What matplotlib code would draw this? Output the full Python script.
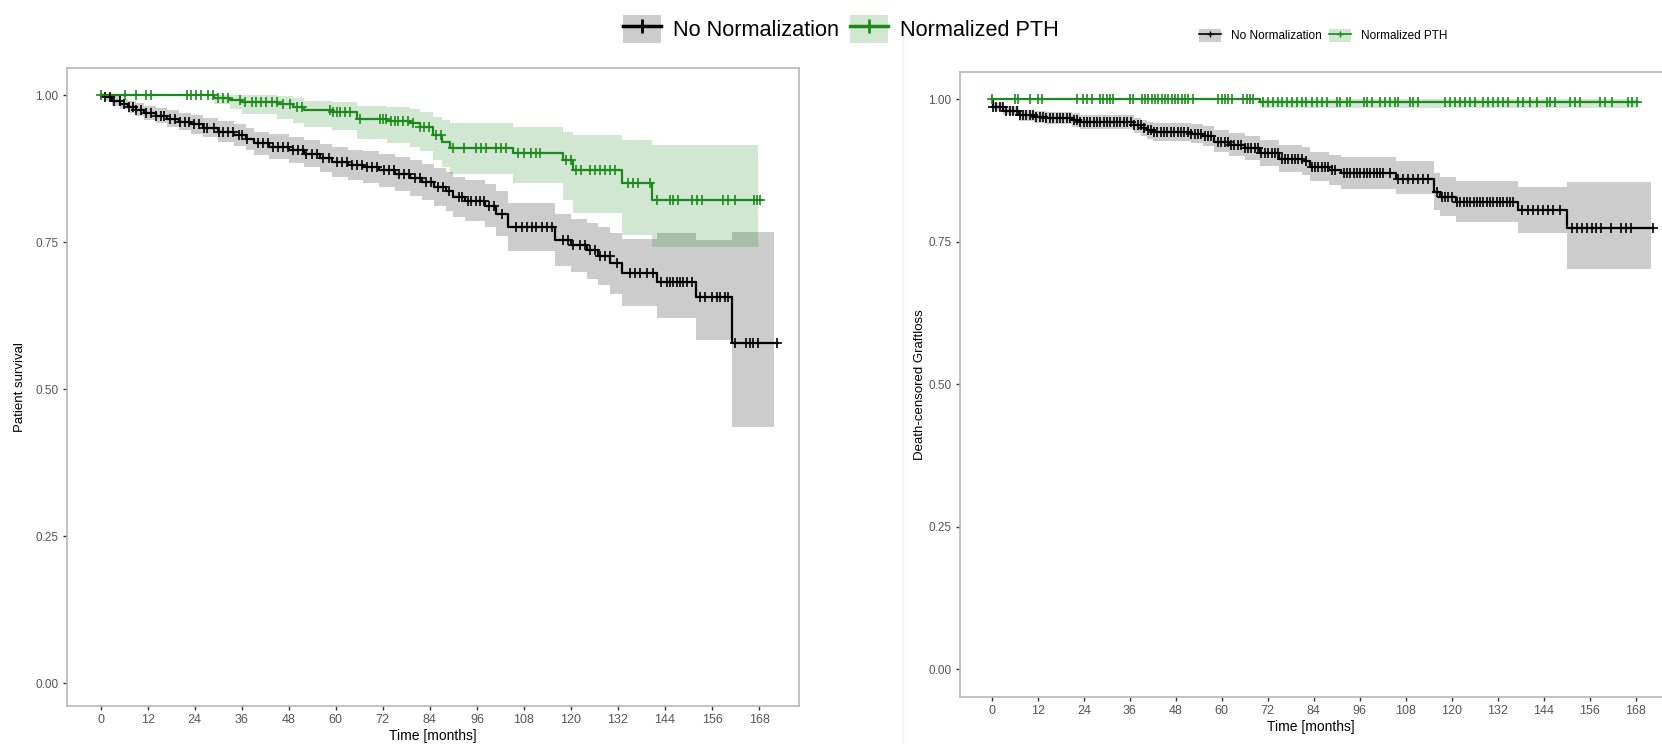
import matplotlib
matplotlib.use("Agg")
import matplotlib.pyplot as plt
import numpy as np
from matplotlib.lines import Line2D
from matplotlib.patches import Patch

plt.rcParams["font.family"] = ["Liberation Sans", "DejaVu Sans"]

# ---- data ----
groups = ["No Normalization", "Normalized PTH"]
months_ticks = [0, 12, 24, 36, 48, 60, 72, 84, 96, 108, 120, 132, 144, 156, 168]
surv_ticks = [0.00, 0.25, 0.50, 0.75, 1.00]

# Patient survival, No Normalization
ps_none_t = [0, 1, 3, 5, 7, 9, 11, 14, 17, 20, 23, 26, 30, 34, 37, 39, 43, 48, 52, 56, 59, 63, 67, 71,
             75, 79, 82, 85, 88, 90, 93, 98, 101, 104, 116, 120, 124, 127, 130, 133, 142, 152, 161]
ps_none_s = [1.0, 0.996, 0.99, 0.985, 0.98, 0.975, 0.97, 0.965, 0.96, 0.955, 0.95, 0.944, 0.938, 0.932,
             0.925, 0.918, 0.912, 0.906, 0.9, 0.893, 0.886, 0.881, 0.877, 0.872, 0.866, 0.859, 0.852,
             0.844, 0.836, 0.827, 0.82, 0.812, 0.798, 0.776, 0.753, 0.745, 0.736, 0.727, 0.715, 0.697,
             0.682, 0.657, 0.578]
ps_none_lo = [1.0, 0.99, 0.982, 0.976, 0.97, 0.964, 0.958, 0.952, 0.946, 0.94, 0.934, 0.928, 0.921,
              0.914, 0.906, 0.898, 0.891, 0.884, 0.877, 0.869, 0.861, 0.855, 0.85, 0.844, 0.837, 0.829,
              0.821, 0.812, 0.803, 0.793, 0.785, 0.776, 0.76, 0.735, 0.709, 0.699, 0.688, 0.677, 0.662,
              0.641, 0.62, 0.583, 0.435]
ps_none_hi = [1.0, 1.0, 0.998, 0.994, 0.99, 0.986, 0.982, 0.978, 0.974, 0.97, 0.966, 0.961, 0.956,
              0.95, 0.944, 0.938, 0.933, 0.928, 0.923, 0.917, 0.911, 0.907, 0.904, 0.9, 0.895, 0.889,
              0.883, 0.876, 0.869, 0.861, 0.855, 0.848, 0.836, 0.817, 0.797, 0.79, 0.783, 0.776, 0.766,
              0.755, 0.765, 0.753, 0.767]
ps_none_end = [171.7, 172.8]  # band end, line end
ps_none_cens = [1.2, 2.5, 3.4, 4.8, 5.9, 7.1, 8.3, 9.0, 10.4, 11.6, 12.8, 14.1, 15.3, 16.2, 17.7, 18.9,
                20.3, 21.4, 22.6, 23.9, 25.1, 26.4, 27.2, 28.8, 30.1, 31.3, 32.6, 33.8, 35.2, 36.0, 37.4,
                40.2, 41.3, 42.7, 44.0, 45.2, 46.5, 47.8, 49.1, 50.3, 51.6, 52.4, 53.9, 55.1, 56.8, 58.2,
                60.4, 61.5, 62.8, 64.1, 65.3, 66.6, 68.0, 69.2, 70.5, 72.3, 73.6, 74.8, 76.2, 77.4, 78.6,
                80.3, 81.5, 83.0, 84.2, 86.1, 87.3, 89.0, 91.5, 92.3, 93.8, 94.6, 95.9, 96.8, 97.7, 99.0,
                100.4, 102.3, 106.1, 107.4, 108.7, 110.0, 111.2, 112.5, 113.8, 115.1, 118.0, 119.3,
                120.6, 122.3, 123.6, 124.8, 126.1, 127.4, 128.7, 129.9, 131.7, 135.1, 136.3, 137.6,
                139.3, 141.0, 143.1, 144.4, 145.3, 146.1, 147.0, 147.8, 148.7, 149.5, 150.8, 152.9,
                154.2, 155.9, 157.2, 158.0, 159.3, 160.2, 161.9, 164.8, 165.7, 166.5, 167.8, 172.5]

# Patient survival, Normalized PTH
ps_pth_t = [0, 29, 33, 36, 45, 49, 52, 59, 65.5, 73, 79, 81.4, 84.8, 87, 89.1, 105.2, 118, 120.5, 133, 140.6]
ps_pth_s = [1.0, 0.995, 0.991, 0.988, 0.984, 0.979, 0.975, 0.972, 0.96, 0.956, 0.952, 0.946, 0.932,
            0.921, 0.91, 0.901, 0.889, 0.872, 0.85, 0.821]
ps_pth_lo = [1.0, 0.985, 0.976, 0.968, 0.96, 0.952, 0.946, 0.94, 0.925, 0.918, 0.912, 0.905, 0.889,
             0.878, 0.866, 0.85, 0.822, 0.8, 0.762, 0.742]
ps_pth_hi = [1.0, 1.0, 1.0, 1.0, 0.998, 0.995, 0.99, 0.988, 0.982, 0.98, 0.976, 0.972, 0.962, 0.957,
             0.952, 0.946, 0.938, 0.932, 0.923, 0.915]
ps_pth_end = [167.8, 168.8]
ps_pth_cens = [0.2, 6.1, 9.1, 11.6, 12.9, 21.9, 23.1, 24.4, 25.7, 27.4, 28.7, 30.0, 31.2, 32.5, 35.5,
               36.8, 38.5, 39.7, 41.0, 42.3, 43.6, 44.9, 46.6, 48.3, 50.0, 51.3, 58.5, 59.3, 60.2, 61.0,
               62.3, 63.6, 66.1, 71.2, 72.1, 72.9, 74.2, 75.1, 75.9, 77.1, 78.4, 79.6, 81.4, 82.6, 83.9,
               85.6, 86.8, 89.8, 92.8, 95.8, 97.0, 98.3, 100.8, 102.1, 103.4, 106.4, 108.1, 109.8, 111.1,
               112.0, 118.8, 120.1, 121.4, 122.6, 124.8, 126.1, 127.4, 128.7, 129.9, 131.2, 134.6,
               135.9, 137.2, 140.2, 141.9, 145.3, 146.1, 147.4, 150.8, 152.1, 153.4, 158.9, 160.2,
               161.9, 166.6, 167.4, 168.3]

# Death-censored graft loss, No Normalization
gl_none_t = [0, 0.3, 3, 7, 11, 14, 21, 23, 37, 39, 40.5, 42, 52, 55, 58, 62, 66, 70, 75, 81, 83, 88,
             91, 105.5, 115.5, 117, 121, 137.3, 150]
gl_none_s = [1.0, 0.987, 0.98, 0.972, 0.969, 0.967, 0.964, 0.961, 0.955, 0.95, 0.946, 0.943, 0.94,
             0.936, 0.926, 0.92, 0.914, 0.905, 0.896, 0.891, 0.882, 0.876, 0.87, 0.861, 0.838, 0.829,
             0.82, 0.805, 0.775]
gl_none_lo = [1.0, 0.98, 0.972, 0.962, 0.958, 0.956, 0.952, 0.948, 0.941, 0.936, 0.931, 0.927, 0.923,
              0.918, 0.907, 0.9, 0.893, 0.883, 0.873, 0.867, 0.857, 0.85, 0.843, 0.833, 0.806, 0.795,
              0.785, 0.765, 0.703]
gl_none_hi = [1.0, 0.994, 0.988, 0.981, 0.979, 0.978, 0.976, 0.973, 0.968, 0.964, 0.961, 0.959, 0.957,
              0.954, 0.946, 0.941, 0.936, 0.928, 0.92, 0.916, 0.908, 0.903, 0.898, 0.891, 0.871, 0.863,
              0.857, 0.846, 0.855]
gl_none_end = [172.0, 172.5]
gl_none_cens = [0.3, 1.1, 2.0, 2.9, 3.7, 4.6, 5.5, 6.4, 7.2, 8.1, 9.0, 9.9, 10.7, 11.6, 12.5, 13.4,
                14.2, 15.1, 16.0, 16.9, 17.8, 18.6, 19.5, 20.4, 21.3, 22.1, 23.0, 23.9, 24.8, 25.6,
                26.5, 27.4, 28.3, 29.2, 30.0, 30.9, 31.8, 32.7, 33.5, 34.4, 35.3, 36.2, 37.1, 38.0,
                38.8, 39.7, 40.6, 41.5, 42.3, 43.2, 44.1, 45.0, 45.8, 46.7, 47.6, 48.5, 49.4, 50.2,
                51.1, 52.0, 52.9, 53.7, 54.6, 55.5, 56.4, 57.2, 58.9, 59.8, 60.7, 61.6, 62.4, 63.3,
                64.2, 65.1, 66.0, 66.8, 67.7, 68.6, 69.5, 70.3, 71.2, 72.1, 73.0, 73.9, 74.7, 75.6,
                76.5, 77.3, 78.2, 79.1, 80.0, 80.8, 82.1, 83.5, 84.4, 85.2, 86.1, 87.0, 87.8, 88.7,
                89.6, 91.8, 92.6, 93.5, 94.4, 95.2, 96.1, 97.0, 97.8, 98.7, 99.6, 100.4, 101.3, 102.2,
                103.9, 106.1, 107.4, 108.7, 110.0, 111.3, 112.6, 113.9, 116.1, 117.4, 118.3, 119.1,
                120.0, 121.3, 122.2, 123.1, 124.0, 124.8, 125.7, 126.6, 127.4, 128.3, 129.2, 130.0,
                130.9, 131.8, 132.7, 133.5, 134.4, 135.3, 136.1, 138.3, 140.0, 141.3, 142.6, 143.9,
                145.2, 146.5, 148.3, 151.3, 152.6, 153.9, 155.2, 156.5, 157.8, 159.1, 161.7, 164.3,
                165.6, 166.9, 172.5]

# Death-censored graft loss, Normalized PTH
gl_pth_t = [0, 69.9]
gl_pth_s = [1.0, 0.995]
gl_pth_lo = [1.0, 0.985]
gl_pth_hi = [1.0, 1.0]
gl_pth_end = [168.3, 168.7]
gl_pth_cens = [0.0, 6.0, 6.9, 9.9, 12.1, 13.0, 22.1, 23.8, 24.7, 26.0, 28.2, 29.1, 29.9, 30.8, 31.7,
               36.0, 36.9, 39.1, 40.0, 40.8, 41.7, 42.6, 43.4, 44.3, 45.2, 46.0, 46.9, 47.8, 48.6,
               49.5, 50.4, 51.2, 52.5, 59.1, 60.0, 60.8, 61.7, 62.6, 65.6, 66.5, 67.4, 68.2, 70.8,
               72.1, 73.4, 74.7, 75.6, 76.9, 78.2, 79.5, 80.8, 82.1, 83.5, 84.8, 86.1, 87.4, 90.0,
               90.9, 92.6, 93.5, 97.0, 97.8, 99.1, 101.3, 102.6, 103.9, 105.2, 106.1, 109.1, 110.0,
               111.3, 118.3, 119.6, 120.9, 122.2, 123.5, 124.8, 126.1, 128.3, 129.6, 130.9, 132.2,
               133.5, 134.8, 137.4, 138.7, 140.5, 142.2, 144.8, 145.7, 147.0, 150.9, 152.2, 153.5,
               158.7, 160.0, 161.8, 166.1, 167.0, 168.3]

BLACK = "#000000"
GREEN = "#1b8a1b"
TICK_COL = "#555555"
SPINE_COL = "#b8b8b8"


def km(ax, t, s, lo, hi, end, cens, color, band_alpha):
    t = np.asarray(t, float)
    tb = np.append(t, end[0])
    ax.fill_between(tb, np.append(lo, lo[-1]), np.append(hi, hi[-1]), step="post",
                    color=color, alpha=band_alpha, lw=0)
    tl = np.append(t, end[1])
    ax.step(tl, np.append(s, s[-1]), where="post", color=color, lw=1.6, zorder=3)
    idx = np.searchsorted(t, cens, side="right") - 1
    ax.plot(cens, np.asarray(s)[idx], ls="none", marker="+", ms=7, mew=1.2,
            color=color, zorder=4)


def style(ax, xlim, ylim, ylabel, ylab_x):
    ax.set_xlim(*xlim)
    ax.set_ylim(*ylim)
    ax.set_xticks(months_ticks)
    ax.set_yticks(surv_ticks)
    ax.set_yticklabels([f"{v:.2f}" for v in surv_ticks])
    ax.tick_params(axis="x", labelsize=9, colors="#333333", labelcolor=TICK_COL, length=3, width=1, pad=3)
    ax.tick_params(axis="y", labelsize=8.5, colors="#333333", labelcolor=TICK_COL, length=3, width=1, pad=3)
    for sp in ax.spines.values():
        sp.set_color(SPINE_COL)
        sp.set_linewidth(1.2)
    ax.set_xlabel("Time [months]", fontsize=10, labelpad=2)
    ax.set_ylabel(ylabel, fontsize=9.5)
    ax.yaxis.set_label_coords(ylab_x, 0.5)


fig = plt.figure(figsize=(16.62, 7.44), dpi=100)
W, H = 1662, 744
ax1 = fig.add_axes([67 / W, 1 - 706 / H, (799 - 67) / W, (706 - 68) / H])
ax2 = fig.add_axes([960 / W, 1 - 697 / H, (1662 - 960) / W, (697 - 72) / H])

km(ax1, ps_none_t, ps_none_s, ps_none_lo, ps_none_hi, ps_none_end, ps_none_cens, BLACK, 0.2)
km(ax1, ps_pth_t, ps_pth_s, ps_pth_lo, ps_pth_hi, ps_pth_end, ps_pth_cens, GREEN, 0.2)
style(ax1, (-8.6, 178.2), (-0.039, 1.046), "Patient survival", (26 - 67) / 732)

km(ax2, gl_none_t, gl_none_s, gl_none_lo, gl_none_hi, gl_none_end, gl_none_cens, BLACK, 0.2)
km(ax2, gl_pth_t, gl_pth_s, gl_pth_lo, gl_pth_hi, gl_pth_end, gl_pth_cens, GREEN, 0.2)
style(ax2, (-8.35, 174.9), (-0.049, 1.048), "Death-censored Graftloss", (926 - 960) / 702)
ax2.spines["right"].set_visible(False)

# faint border of the second panel image
fig.add_artist(Line2D([903 / W, 903 / W], [0.0, 0.95], color="#f2f2f2", lw=1))


def legend_handles(lw, ms, mew):
    return [
        (Patch(facecolor="#cccccc", edgecolor="none"),
         Line2D([], [], color=BLACK, lw=lw, marker="+", ms=ms, mew=mew)),
        (Patch(facecolor=GREEN, alpha=0.2, edgecolor="none"),
         Line2D([], [], color=GREEN, lw=lw, marker="+", ms=ms, mew=mew)),
    ]


fig.legend(legend_handles(2.5, 10, 2.0), groups, loc="center", bbox_to_anchor=(841 / W, 1 - 29 / H),
           ncol=2, frameon=False, fontsize=15.6, handlelength=1.75, handleheight=1.6,
           handletextpad=0.55, columnspacing=0.5)
fig.legend(legend_handles(1.2, 5, 1.0), groups, loc="center", bbox_to_anchor=(1323 / W, 1 - 35.5 / H),
           ncol=2, frameon=False, fontsize=8.5, handlelength=1.86, handleheight=1.4,
           handletextpad=0.85, columnspacing=0.6)

fig.savefig("out.png", dpi=100)
